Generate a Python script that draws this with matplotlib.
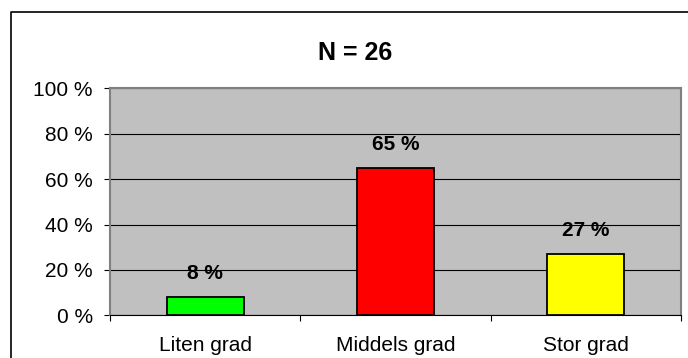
import matplotlib
matplotlib.use("Agg")
import matplotlib.pyplot as plt
from matplotlib.lines import Line2D
from matplotlib.ticker import FixedLocator

# --------------------------

categories = ["Liten grad", "Middels grad", "Stor grad"]
values = [8, 65, 27]
bar_colors = ["#00FF00", "#FF0000", "#FFFF00"]
yticks = [0, 20, 40, 60, 80, 100]
title = "N = 26"

plt.rcParams["font.family"] = ["Liberation Sans", "DejaVu Sans"]

fig = plt.figure(figsize=(6.88, 3.58), dpi=100)
ax = fig.add_axes([110 / 688, 1 - 315.3 / 358, 571 / 688, 227 / 358])

x = range(len(categories))
ax.set_facecolor("#C0C0C0")
ax.bar(x, values, width=0.405, color=bar_colors, edgecolor="black", linewidth=1.3, zorder=3)

for xi, v in zip(x, values):
    ax.annotate(f"{v} %", (xi, v), xytext=(0, 17), textcoords="offset points",
                ha="center", va="center", fontsize=15, fontweight="bold", zorder=4)

ax.set_xlim(-0.5, len(categories) - 0.5)
ax.set_ylim(0, 100)

ax.set_yticks(yticks)
ax.set_yticklabels([f"{t} %" for t in yticks])
ax.yaxis.grid(True, color="black", linewidth=0.8, zorder=1)
ax.set_axisbelow(True)

ax.set_xticks(list(x))
ax.set_xticklabels(categories)
ax.xaxis.set_minor_locator(FixedLocator([i - 0.5 for i in range(len(categories) + 1)]))

ax.tick_params(axis="y", length=4.3, width=0.8, pad=8, labelsize=15, color="black")
ax.tick_params(axis="x", which="major", length=0, pad=15, labelsize=15)
ax.tick_params(axis="x", which="minor", length=4, width=0.8, color="black")

for side in ["top", "right", "left"]:
    ax.spines[side].set_color("#808080")
    ax.spines[side].set_linewidth(1.5)
ax.spines["bottom"].set_color("black")
ax.spines["bottom"].set_linewidth(0.8)

fig.text(355.5 / 688, 1 - 53.5 / 358, title, ha="center", va="center",
         fontsize=18, fontweight="bold")

# chart frame: only left and top edges fall inside the picture
fx, fy = 11 / 688, 1 - 12 / 358
fig.add_artist(Line2D([fx, fx, 1.0], [0.0, fy, fy], transform=fig.transFigure,
                      color="black", linewidth=1.2))

fig.savefig("out.png", dpi=100)
